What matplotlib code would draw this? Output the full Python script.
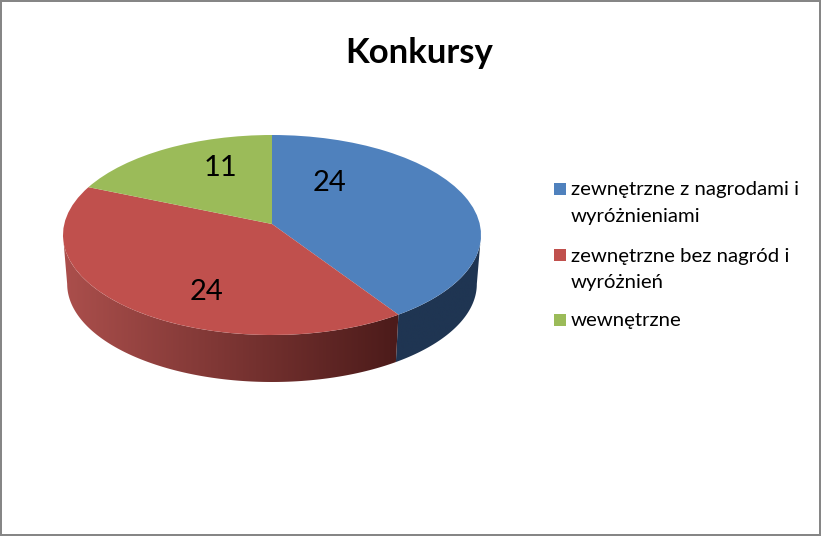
# Konkursy - 3D-looking pie chart, perspective and side wall are done by hand

import numpy as np
import matplotlib
matplotlib.use('Agg')
import matplotlib.pyplot as plt
from matplotlib.colors import LinearSegmentedColormap
from matplotlib.patches import Polygon, Rectangle
from matplotlib.transforms import Transform

title = 'Konkursy'
categories = ['zewnętrzne z nagrodami i\nwyróżnieniami',
              'zewnętrzne bez nagród i\nwyróżnień',
              'wewnętrzne']
values = [24, 24, 11]
top_colors = ['#4f81bd', '#c0504d', '#9bbb59']
side_colors = [('#1f3552', '#1f3552'), ('#ab4f4c', '#4c1b1a'), ('#5f7536', '#5f7536')]

W, H = 821, 536
plt.rcParams['font.family'] = ['Lato', 'DejaVu Sans']

# ellipse of the pie top, in pixels
cx, cy, rx, ry = 272, 235, 209, 100
# the slice apex sits above the ellipse centre
tilt = 0.11
# bottom rim is a bit smaller and lower than the top one
bottom_scale, bottom_drop = 0.98, 0.49


def warp(xy):
    x, y = np.asarray(xy).T
    den = 1 + tilt * y
    return np.column_stack((np.sqrt(1 - tilt**2) * x / den, (y + tilt) / den))


class Perspective(Transform):
    input_dims = output_dims = 2

    def transform_non_affine(self, values):
        return warp(values)


def px(x, y):
    return x / W, 1 - y / H


fig = plt.figure(figsize=(W / 100, H / 100), dpi=100)
ax = fig.add_axes([0, 0, 1, 1])

wedges, _ = ax.pie(values, colors=top_colors, startangle=90, counterclock=False,
                   wedgeprops={'linewidth': 0, 'zorder': 5})
for w in wedges:
    w.set_transform(Perspective() + ax.transData)

# side wall, only the front part of the rim shows
edges = np.cumsum([0] + values) / sum(values) * 2 * np.pi
front_start = np.arccos(-tilt)
front_stop = 2 * np.pi - front_start
for i in range(len(values)):
    start, stop = max(edges[i], front_start), min(edges[i + 1], front_stop)
    if stop <= start:
        continue
    angles = np.linspace(start, stop, 200)
    top = warp(np.column_stack((np.sin(angles), np.cos(angles))))
    bottom = top * bottom_scale - [0, bottom_drop]
    wall = Polygon(np.vstack((top, bottom[::-1])), closed=True, transform=ax.transData,
                   facecolor='none', edgecolor='none')
    ax.add_patch(wall)
    # shading runs left to right
    cmap = LinearSegmentedColormap.from_list('side', side_colors[i])
    shade = np.clip((np.linspace(-1, 1, 256) + 1) / 1.6, 0, 1)[None, :]
    im = ax.imshow(shade, extent=(-1, 1, -2, 1), aspect='auto', cmap=cmap, vmin=0, vmax=1,
                   interpolation='bilinear', zorder=2)
    im.set_clip_path(wall)

ax.set_aspect('auto')
ax.set_xlim(-cx / rx, (W - cx) / rx)
ax.set_ylim((cy - H) / ry, cy / ry)
ax.axis('off')

# data labels
label_pos = [(329, 183), (206, 292), (220, 168)]
for val, (x, y) in zip(values, label_pos):
    fig.text(*px(x, y), str(val), fontsize=21, ha='center', va='center', color='black', zorder=10)

fig.text(*px(419, 63), title, fontsize=25, fontweight='bold', ha='center', va='baseline')

# legend
swatch_y = [183, 249, 314]
line_y = [[195, 222], [262, 288], [326]]
for name, col, sy, ly in zip(categories, top_colors, swatch_y, line_y):
    fig.add_artist(Rectangle(px(554, sy + 12), 12 / W, 12 / H, transform=fig.transFigure,
                             facecolor=col, edgecolor='none'))
    for line, y in zip(name.split('\n'), ly):
        fig.text(*px(571, y), line, fontsize=14.7, ha='left', va='baseline', color='black')

# grey outer frame
fig.add_artist(Rectangle((1 / W, 1 / H), 1 - 2 / W, 1 - 2 / H, transform=fig.transFigure,
                         fill=False, edgecolor='#868686', linewidth=1.44))

fig.savefig('out.png', dpi=100)
plt.close()
